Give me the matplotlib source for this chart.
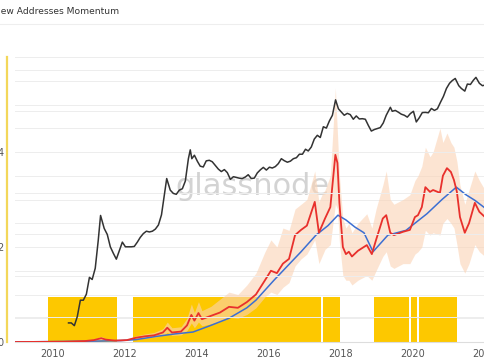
import numpy as np
import pandas as pd
import matplotlib
matplotlib.use('Agg')
import matplotlib.pyplot as plt
import matplotlib.dates as mdates
from matplotlib.transforms import ScaledTranslation

# ============ data ============
# yellow signal periods (start, end)
signal_start = ['2009-12-20', '2012-04-30', '2017-08-12', '2019-01-10', '2020-01-18', '2020-04-15']
signal_end = ['2011-11-20', '2017-07-22', '2018-01-28', '2019-12-30', '2020-03-25', '2021-04-28']

# BTC price (right log axis)
price_dates = ['2010-07-18', '2010-08-15', '2010-09-15', '2010-10-15', '2010-11-15', '2010-12-15',
               '2011-01-15', '2011-02-15', '2011-03-15', '2011-04-15', '2011-05-15', '2011-06-08',
               '2011-07-15', '2011-08-15', '2011-09-15', '2011-10-15', '2011-11-15', '2011-12-15',
               '2012-01-15', '2012-02-15', '2012-03-15', '2012-04-15', '2012-05-15', '2012-06-15',
               '2012-07-15', '2012-08-15', '2012-09-15', '2012-10-15', '2012-11-15', '2012-12-15',
               '2013-01-15', '2013-02-15', '2013-03-15', '2013-04-09', '2013-05-15', '2013-06-15',
               '2013-07-15', '2013-08-15', '2013-09-15', '2013-10-15', '2013-11-15', '2013-12-04',
               '2013-12-20', '2014-01-15', '2014-02-15', '2014-03-15', '2014-04-15', '2014-05-15',
               '2014-06-15', '2014-07-15', '2014-08-15', '2014-09-15', '2014-10-15', '2014-11-15',
               '2014-12-15', '2015-01-15', '2015-02-15', '2015-03-15', '2015-04-15', '2015-05-15',
               '2015-06-15', '2015-07-15', '2015-08-15', '2015-09-15', '2015-10-15', '2015-11-15',
               '2015-12-15', '2016-01-15', '2016-02-15', '2016-03-15', '2016-04-15', '2016-05-15',
               '2016-06-15', '2016-07-15', '2016-08-15', '2016-09-15', '2016-10-15', '2016-11-15',
               '2016-12-15', '2017-01-15', '2017-02-15', '2017-03-15', '2017-04-15', '2017-05-15',
               '2017-06-15', '2017-07-15', '2017-08-15', '2017-09-15', '2017-10-15', '2017-11-15',
               '2017-12-17', '2018-01-15', '2018-02-15', '2018-03-15', '2018-04-15', '2018-05-15',
               '2018-06-15', '2018-07-15', '2018-08-15', '2018-09-15', '2018-10-15', '2018-11-15',
               '2018-12-15', '2019-01-15', '2019-02-15', '2019-03-15', '2019-04-15', '2019-05-15',
               '2019-06-26', '2019-07-15', '2019-08-15', '2019-09-15', '2019-10-15', '2019-11-15',
               '2019-12-15', '2020-01-15', '2020-02-15', '2020-03-15', '2020-04-15', '2020-05-15',
               '2020-06-15', '2020-07-15', '2020-08-15', '2020-09-15', '2020-10-15', '2020-11-15',
               '2020-12-15', '2021-01-15', '2021-02-15', '2021-03-15', '2021-04-14', '2021-05-20',
               '2021-06-15', '2021-07-20', '2021-08-15', '2021-09-15', '2021-10-15', '2021-11-10',
               '2021-12-15', '2022-01-15', '2022-02-10']
price = [0.07, 0.07, 0.06, 0.1, 0.25, 0.25,
         0.35, 0.9, 0.8, 1.5, 7.0, 29.0,
         14.0, 10.0, 5.0, 3.5, 2.5, 4.0,
         6.5, 5.0, 5.0, 5.0, 5.1, 6.5,
         8.5, 10.5, 12.0, 11.5, 12.0, 13.5,
         17.0, 30.0, 90.0, 230.0, 120.0, 100.0,
         95.0, 120.0, 130.0, 200.0, 700.0, 1150.0,
         700.0, 850.0, 600.0, 460.0, 440.0, 620.0,
         640.0, 590.0, 480.0, 390.0, 340.0, 380.0,
         320.0, 220.0, 255.0, 245.0, 235.0, 230.0,
         250.0, 285.0, 230.0, 236.0, 315.0, 375.0,
         430.0, 370.0, 435.0, 415.0, 450.0, 530.0,
         700.0, 625.0, 575.0, 610.0, 700.0, 740.0,
         900.0, 900.0, 1190.0, 1080.0, 1350.0, 2100.0,
         2600.0, 2300.0, 4200.0, 3900.0, 5800.0, 8000.0,
         19000.0, 11500.0, 9500.0, 8000.0, 8900.0, 8300.0,
         6400.0, 7700.0, 6500.0, 6600.0, 6400.0, 4500.0,
         3300.0, 3600.0, 3800.0, 4000.0, 5200.0, 8000.0,
         12500.0, 10000.0, 10500.0, 9500.0, 8500.0, 8000.0,
         7200.0, 8800.0, 10000.0, 5500.0, 7000.0, 9300.0,
         9400.0, 9200.0, 11700.0, 10500.0, 11500.0, 16500.0,
         23000.0, 36000.0, 48000.0, 56000.0, 63000.0, 42000.0,
         36000.0, 31000.0, 46000.0, 45000.0, 57000.0, 67000.0,
         48000.0, 42000.0, 43500.0]

# new addresses: 30d momentum (red), 365d mean (blue), daily range (peach)
na_dates = ['2009-01-03', '2010-06-01', '2011-01-01', '2011-04-01', '2011-06-15', '2011-08-01',
            '2011-11-01', '2012-03-01', '2012-06-01', '2012-09-01', '2012-12-01', '2013-03-01',
            '2013-04-15', '2013-06-01', '2013-09-01', '2013-11-01', '2013-12-15', '2014-01-15',
            '2014-02-25', '2014-04-01', '2014-07-01', '2014-10-01', '2015-01-01', '2015-04-01',
            '2015-07-01', '2015-10-01', '2016-01-01', '2016-03-01', '2016-05-01', '2016-07-01',
            '2016-09-01', '2016-11-01', '2017-01-01', '2017-03-01', '2017-05-20', '2017-07-01',
            '2017-08-01', '2017-09-01', '2017-10-25', '2017-12-15', '2018-01-05', '2018-01-25',
            '2018-03-01', '2018-04-01', '2018-05-01', '2018-06-01', '2018-08-01', '2018-10-30',
            '2018-12-20', '2019-02-01', '2019-04-10', '2019-05-15', '2019-06-25', '2019-08-01',
            '2019-11-01', '2020-01-10', '2020-03-01', '2020-04-01', '2020-05-10', '2020-06-15',
            '2020-08-01', '2020-09-01', '2020-11-10', '2020-12-10', '2021-01-20', '2021-03-01',
            '2021-04-01', '2021-05-01', '2021-06-01', '2021-07-20', '2021-09-01', '2021-10-30',
            '2021-12-15', '2022-02-10']
na_momentum = [0, 0.005, 0.02, 0.04, 0.08, 0.05,
               0.03, 0.04, 0.09, 0.12, 0.14, 0.2,
               0.3, 0.2, 0.22, 0.35, 0.57, 0.45,
               0.61, 0.48, 0.55, 0.62, 0.74, 0.72,
               0.84, 1.0, 1.3, 1.5, 1.45, 1.65,
               1.75, 2.25, 2.36, 2.45, 2.95, 2.3,
               2.45, 2.6, 2.84, 3.94, 3.77, 2.93,
               2.0, 1.85, 1.9, 1.8, 1.92, 2.04,
               1.85, 2.15, 2.6, 2.67, 2.3, 2.25,
               2.32, 2.36, 2.63, 2.67, 2.84, 3.26,
               3.16, 3.2, 3.14, 3.5, 3.66, 3.58,
               3.41, 3.16, 2.63, 2.3, 2.5, 2.93,
               2.74, 2.63]
na_high = [0, 0.01, 0.03, 0.06, 0.12, 0.07,
           0.05, 0.06, 0.13, 0.17, 0.2, 0.28,
           0.42, 0.3, 0.32, 0.5, 0.8, 0.62,
           0.85, 0.66, 0.75, 0.9, 1.05, 1.0,
           1.2, 1.45, 1.9, 2.15, 2.0, 2.4,
           2.35, 2.8, 2.9, 3.0, 3.6, 2.95,
           3.1, 3.2, 3.5, 5.35, 4.4, 3.5,
           2.6, 2.4, 2.5, 2.3, 2.5, 2.7,
           2.4, 2.8, 3.3, 3.6, 3.0, 2.9,
           3.0, 3.1, 3.4, 3.5, 3.7, 4.1,
           3.9, 4.0, 4.5, 4.2, 4.4, 4.2,
           4.1, 3.8, 3.3, 2.9, 3.2, 3.6,
           3.4, 3.2]
na_low = [0, 0, 0.01, 0.02, 0.05, 0.03,
          0.02, 0.03, 0.06, 0.08, 0.1, 0.14,
          0.2, 0.14, 0.15, 0.24, 0.4, 0.3,
          0.42, 0.34, 0.38, 0.43, 0.52, 0.5,
          0.58, 0.72, 0.95, 1.05, 1.0, 1.15,
          1.25, 1.6, 1.75, 1.85, 2.15, 1.65,
          1.8, 1.95, 2.05, 2.9, 2.8, 2.1,
          1.4, 1.3, 1.3, 1.2, 1.3, 1.4,
          1.3, 1.5, 1.8, 1.9, 1.6, 1.55,
          1.65, 1.65, 1.85, 1.9, 2.0, 2.35,
          2.25, 2.3, 2.25, 2.5, 2.6, 2.5,
          2.4, 2.05, 1.65, 1.45, 1.65, 2.05,
          1.9, 1.8]

mean_dates = ['2009-01-03', '2011-06-01', '2012-01-01', '2012-06-01', '2013-01-01', '2013-07-01',
              '2014-01-01', '2014-07-01', '2015-01-01', '2015-07-01', '2015-10-01', '2016-04-01',
              '2016-10-01', '2017-01-01', '2017-06-01', '2017-10-01', '2018-01-10', '2018-04-01',
              '2018-07-01', '2018-10-01', '2019-01-01', '2019-06-01', '2019-12-01', '2020-03-01',
              '2020-07-01', '2020-12-01', '2021-04-25', '2021-08-01', '2021-11-01', '2022-02-10']
na_mean = [0, 0.02, 0.03, 0.05, 0.12, 0.17,
           0.21, 0.35, 0.5, 0.72, 0.88, 1.3,
           1.7, 1.9, 2.25, 2.45, 2.67, 2.57,
           2.42, 2.3, 1.9, 2.25, 2.35, 2.5,
           2.7, 3.0, 3.26, 3.1, 2.98, 2.82]

y_ticks = [0, 2, 4]
y_tick_labels = ['0', '2', '4']

# ============ figure ============
fig = plt.figure(figsize=(4.85, 3.6), dpi=100)
fig.patch.set_facecolor('white')

# title strip, first letter cut off by the crop
fig.text(-6 / 485, 1 - 12 / 360, 'New Addresses Momentum', fontsize=6.6, color='#333333',
         ha='left', va='center')
fig.add_artist(plt.Line2D([0, 1], [1 - 24 / 360, 1 - 24 / 360], color='#eeeeee', lw=0.8))

ax = fig.add_axes([15 / 485, 18 / 360, 470 / 485, 285 / 360])
ax2 = ax.twinx()

# yellow signal blocks
for s, e in zip(signal_start, signal_end):
    ax.axvspan(pd.Timestamp(s), pd.Timestamp(e), ymin=0, ymax=0.95 / 6, color='#fdc800',
               lw=0, zorder=1)

d_na = pd.to_datetime(na_dates)
ax.fill_between(d_na, na_low, na_high, color='#fbd3b5', alpha=0.6, lw=0, zorder=2)
ax.plot(pd.to_datetime(mean_dates), na_mean, color='#3c6fd2', lw=1.1, zorder=3)
ax.plot(d_na, na_momentum, color='#e8302c', lw=1.3, zorder=4)

ax2.plot(pd.to_datetime(price_dates), price, color='#333333', lw=1.1, zorder=5)
ax2.set_yscale('log')
ax2.set_ylim(0.024, 2.1e5)

ax.set_ylim(0, 6)
ax.set_xlim(pd.Timestamp('2009-01-21'), pd.Timestamp('2022-02-10'))

# grids: left linear + right log
ax.set_yticks(y_ticks)
ax.set_yticklabels(y_tick_labels)
ax.set_yticks(np.arange(0, 6.01, 0.5), minor=True)
ax.grid(True, axis='y', which='both', color='#ededed', lw=0.7, zorder=0)
ax2.yaxis.set_major_locator(matplotlib.ticker.LogLocator(base=10, numticks=20))
ax2.yaxis.set_minor_locator(matplotlib.ticker.NullLocator())
ax2.grid(True, axis='y', which='major', color='#ededed', lw=0.7)
ax2.set_yticklabels([])
ax2.tick_params(axis='y', length=0, right=False)
ax.set_axisbelow(True)
ax2.set_axisbelow(True)

# watermark
ax.text(0.506, 0.545, 'glassnode', transform=ax.transAxes, fontsize=22, color='#cccccc',
        alpha=0.85, ha='center', va='center', zorder=1.5)

ax.xaxis.set_major_locator(mdates.YearLocator(2))
ax.xaxis.set_major_formatter(mdates.DateFormatter('%Y'))
ax.tick_params(axis='x', length=0, labelsize=7, colors='#555555', pad=5)
ax.tick_params(axis='y', which='both', length=0, labelsize=7, colors='#555555', pad=2)
for lab in ax.get_xticklabels():
    lab.set_transform(lab.get_transform() + ScaledTranslation(4 / 100, 0, fig.dpi_scale_trans))

for sp in ['top', 'right']:
    ax.spines[sp].set_visible(False)
    ax2.spines[sp].set_visible(False)
ax2.spines['left'].set_visible(False)
ax2.spines['bottom'].set_visible(False)
ax.spines['bottom'].set_color('#dddddd')
ax.spines['left'].set_color('#f3d75a')
ax.spines['left'].set_linewidth(1.6)
ax.spines['left'].set_position(('outward', 6))

fig.savefig('out.png', dpi=100)
